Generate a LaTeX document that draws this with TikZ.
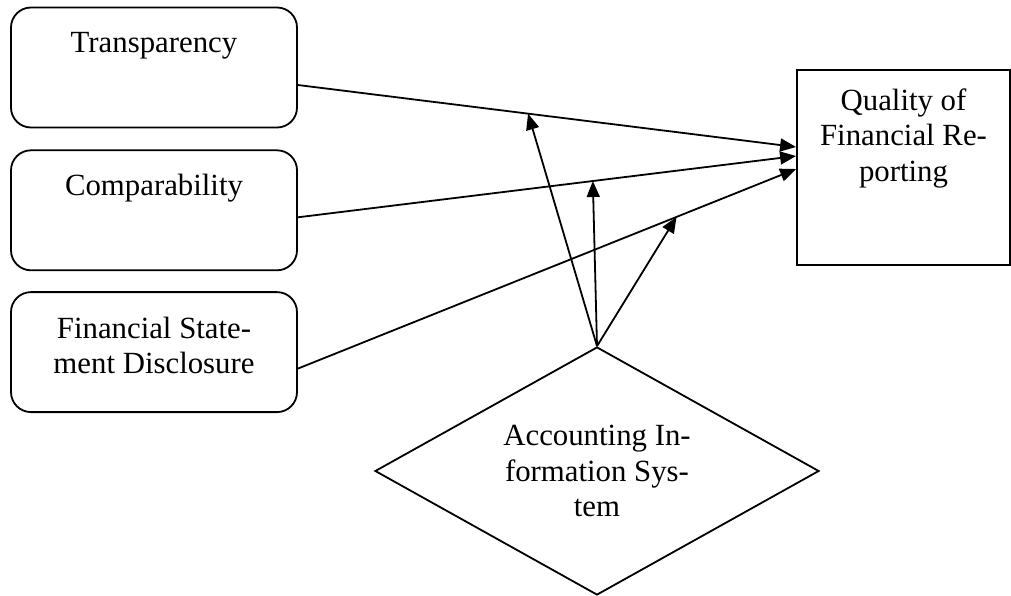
\documentclass[tikz,border=0pt]{standalone}
\usepackage{fontspec}
\setmainfont{Liberation Serif}
\usetikzlibrary{arrows.meta,positioning,shapes.geometric}

\begin{document}
\begin{tikzpicture}[x=0.5pt,y=-0.5pt,
    node distance=10.5pt,
    font=\fontsize{15.4}{17.6}\selectfont,
    line width=0.9pt,
    box/.style={draw,rounded corners=10pt,minimum width=143pt,minimum height=60pt,inner sep=0pt},
    txt/.style={anchor=north,align=center,inner sep=0pt},
    target/.style={draw,minimum width=106.5pt,minimum height=97.5pt,inner sep=0pt},
    moderator/.style={draw,diamond,aspect=1.79,minimum width=222pt,minimum height=124pt,
      inner sep=0pt,align=center},
    a/.style={-{Triangle[length=8pt,width=6.5pt]}}]
  \useasboundingbox (0,0) rectangle (1011,595);
  \node[box,label={[txt,yshift=-12.5pt]north:Transparency}] (trans) at (154,67.5) {};
  \node[box,below=of trans,label={[txt,yshift=-12pt]north:Comparability}] (comp) {};
  \node[box,below=10pt of comp,label={[txt,yshift=-12.5pt]north:{Financial State-\\ment Disclosure}}] (fsd) {};
  \node[target,label={[txt,yshift=-9.5pt]north:{Quality of\\Financial Re-\\porting}}] (qual) at (903.5,167.5) {};
  \node[moderator] (ais) at (597,471) {Accounting In-\\formation Sys-\\tem};
  \draw[a] ([yshift=-8.75pt]trans.east) -- coordinate[pos=0.462] (m1) ([yshift=10.25pt]qual.west);
  \draw[a] ([yshift=-3.5pt]comp.east) -- coordinate[pos=0.592] (m2) ([yshift=5.75pt]qual.west);
  \draw[a] ([yshift=-8.25pt]fsd.east) -- coordinate[pos=0.76] (m3) ([yshift=-0.75pt]qual.west);
  \draw[a] (ais.north) -- (m1);
  \draw[a] (ais.north) -- (m2);
  \draw[a] (ais.north) -- (m3);
\end{tikzpicture}
\end{document}
